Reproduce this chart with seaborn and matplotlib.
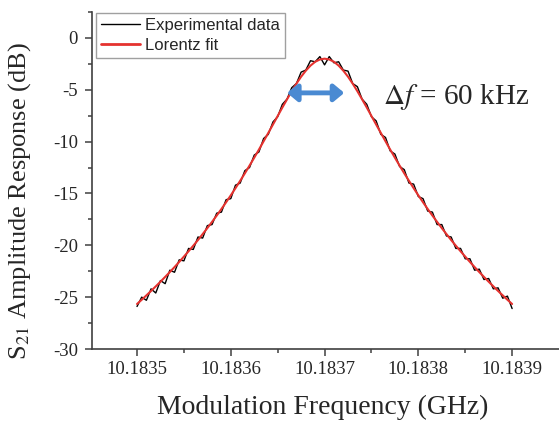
"""
S21 amplitude response around the modulation resonance:
measured trace with its Lorentz fit, drawn with seaborn.
"""
import numpy as np
import pandas as pd
import seaborn as sns
import matplotlib.pyplot as plt

# frequency grid (GHz), 5 kHz steps from 10.18350 to 10.18390
freq_start = 10.18350
freq_step = 0.000005
n_points = 81

exp_db = [
    -25.9, -25.0, -25.3, -24.2, -24.6, -23.4, -23.7, -22.4, -22.6, -21.4,
    -21.5, -20.3, -20.4, -19.2, -19.3, -18.1, -18.0, -16.9, -16.8, -15.6,
    -15.5, -14.2, -14.0, -12.8, -12.5, -11.3, -11.0, -9.7, -9.3, -8.1,
    -7.6, -6.4, -5.9, -4.8, -4.4, -3.3, -3.1, -2.2, -2.3, -1.8,
    -2.6,
    -1.8, -2.4, -2.3, -3.1, -3.2, -4.4, -4.7, -5.9, -6.4, -7.6,
    -8.0, -9.3, -9.6, -10.9, -11.2, -12.4, -12.7, -14.0, -14.1, -15.3,
    -15.5, -16.7, -16.8, -18.0, -18.0, -19.1, -19.2, -20.3, -20.3, -21.3,
    -21.3, -22.4, -22.3, -23.3, -23.2, -24.2, -24.1, -25.1, -24.9, -26.1,
]

# Lorentz fit (dB)
fit_db = [
    -25.66, -25.25, -24.83, -24.40, -23.96, -23.51, -23.05, -22.58, -22.10, -21.60,
    -21.09, -20.57, -20.04, -19.49, -18.92, -18.34, -17.74, -17.13, -16.50, -15.85,
    -15.18, -14.49, -13.78, -13.06, -12.31, -11.55, -10.77, -9.97, -9.16, -8.35,
    -7.53, -6.71, -5.92, -5.14, -4.41, -3.74, -3.16, -2.67, -2.30, -2.08,
    -2.00,
    -2.08, -2.30, -2.67, -3.16, -3.74, -4.41, -5.14, -5.92, -6.71, -7.53,
    -8.35, -9.16, -9.97, -10.77, -11.55, -12.31, -13.06, -13.78, -14.49, -15.18,
    -15.85, -16.50, -17.13, -17.74, -18.34, -18.92, -19.49, -20.04, -20.57, -21.09,
    -21.60, -22.10, -22.58, -23.05, -23.51, -23.96, -24.40, -24.83, -25.25, -25.66,
]

xtick_vals = [10.1835, 10.1836, 10.1837, 10.1838, 10.1839]
xtick_labels = ["10.1835", "10.1836", "10.1837", "10.1838", "10.1839"]
ytick_vals = [0, -5, -10, -15, -20, -25, -30]
ytick_labels = ["0", "-5", "-10", "-15", "-20", "-25", "-30"]

# linewidth (-3 dB) arrow ends and annotation
arrow_x = [10.18366, 10.183721]
arrow_y = -5.3
note_text = r"$\Delta\mathit{f}$ = 60 kHz"


def main():
    sns.set_style("ticks")
    plt.rcParams["font.family"] = ["Liberation Serif", "DejaVu Serif"]
    plt.rcParams["mathtext.fontset"] = "stix"
    plt.rcParams["axes.unicode_minus"] = False

    freq = freq_start + freq_step * np.arange(n_points)
    df = pd.DataFrame({"freq": freq, "exp": exp_db, "fit": fit_db})

    fig = plt.figure(figsize=(5.59, 4.25), dpi=100)
    ax = fig.add_axes([92 / 559, 1 - 349 / 425, 467 / 559, 337 / 425])

    sns.lineplot(data=df, x="freq", y="exp", ax=ax, color="black",
                 linewidth=1.0, label="Experimental data")
    sns.lineplot(data=df, x="freq", y="fit", ax=ax, color="#e5322f",
                 linewidth=1.5, label="Lorentz fit")

    ax.set_xlim(10.183452, 10.18395)
    ax.set_ylim(-30, 2.5)
    ax.set_xticks(xtick_vals, labels=xtick_labels)
    ax.set_yticks(ytick_vals, labels=ytick_labels)
    ax.set_xticks([10.18355, 10.18365, 10.18375, 10.18385], minor=True)
    ax.set_yticks([2.5, -2.5, -7.5, -12.5, -17.5, -22.5, -27.5], minor=True)

    for side in ["top", "right"]:
        ax.spines[side].set_visible(False)
    for side in ["left", "bottom"]:
        ax.spines[side].set_color("#404040")
        ax.spines[side].set_linewidth(1.2)
    ax.tick_params(which="major", direction="out", length=5, width=1.1,
                   color="#404040", labelsize=13.5, pad=4)
    ax.tick_params(which="minor", direction="out", length=3, width=1.1,
                   color="#404040")
    ax.tick_params(axis="y", pad=5)

    ax.set_xlabel("Modulation Frequency (GHz)", fontsize=20)
    ax.set_ylabel("S$_{21}$ Amplitude Response (dB)", fontsize=19)
    ax.xaxis.set_label_coords(0.495, -0.135)
    ax.yaxis.set_label_coords(-0.127, 0.44)

    # blue double arrow marking the linewidth
    ax.annotate("", xy=(arrow_x[1], arrow_y), xytext=(arrow_x[0], arrow_y),
                arrowprops=dict(arrowstyle="<|-|>,head_length=0.6,head_width=0.5",
                                color="#4a8ad2", lw=3.5, shrinkA=0, shrinkB=0))
    ax.text(10.183762, -5.7, note_text, fontsize=21, va="center", ha="left")

    leg = ax.legend(loc="upper left", bbox_to_anchor=(0.009, 0.997),
                    borderaxespad=0, fancybox=False, framealpha=1,
                    edgecolor="#a0a0a0", handlelength=2.35, handletextpad=0.3,
                    labelspacing=0.3, borderpad=0.3,
                    prop={"family": "Liberation Sans", "size": 12})
    leg.get_frame().set_linewidth(1.0)
    leg.get_lines()[1].set_linewidth(2.0)

    fig.savefig("out.png", dpi=100)
    plt.close(fig)


if __name__ == "__main__":
    main()
